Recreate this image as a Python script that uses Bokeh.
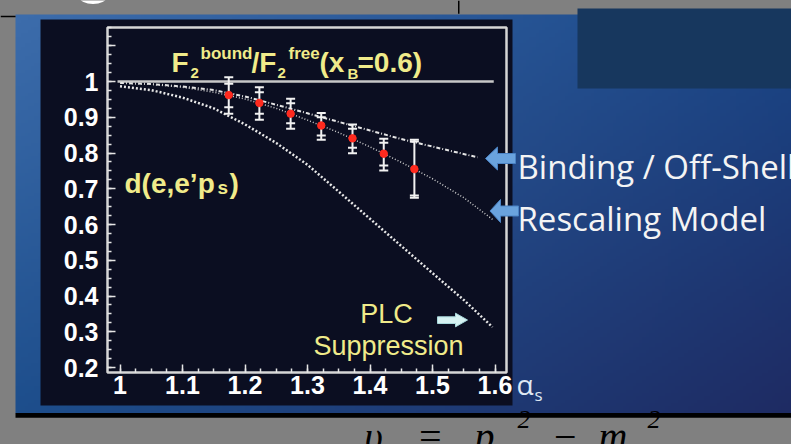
import numpy as np
from bokeh.plotting import figure
from bokeh.models import Range1d, LinearAxis, FixedTicker
from bokeh.core.properties import value
from bokeh.embed import file_html
from bokeh.resources import INLINE

# ---------------- data ----------------
alpha_s = [1.174, 1.223, 1.273, 1.322, 1.372, 1.422, 1.471]
ratio = [0.962, 0.940, 0.910, 0.877, 0.841, 0.798, 0.755]
tot_lo = [0.910, 0.893, 0.868, 0.837, 0.799, 0.751, 0.675]
tot_hi = [1.012, 0.984, 0.952, 0.912, 0.880, 0.840, 0.837]
stat_lo = [0.928, 0.910, 0.883, 0.849, 0.815, 0.765, 0.681]
stat_hi = [0.994, 0.970, 0.939, 0.900, 0.868, 0.829, 0.832]

binding_x = [1.0, 1.05, 1.1, 1.15, 1.2, 1.25, 1.3, 1.35, 1.4, 1.45, 1.5, 1.572]
binding_y = [0.996, 0.993, 0.986, 0.976, 0.958, 0.935, 0.911, 0.887, 0.863, 0.839, 0.818, 0.788]
rescale_x = [1.0, 1.05, 1.1, 1.15, 1.2, 1.25, 1.3, 1.35, 1.4, 1.45, 1.5, 1.55, 1.597]
rescale_y = [0.996, 0.992, 0.984, 0.970, 0.951, 0.925, 0.892, 0.857, 0.817, 0.774, 0.728, 0.675, 0.613]
plc_x = [1.0, 1.05, 1.1, 1.15, 1.2, 1.25, 1.3, 1.35, 1.4, 1.45, 1.5, 1.55, 1.596]
plc_y = [0.987, 0.976, 0.955, 0.925, 0.880, 0.828, 0.767, 0.692, 0.616, 0.540, 0.464, 0.389, 0.313]
unity_x = [0.996, 1.598]
unity_y = [1.0, 1.0]

x_ticks = [1.0, 1.1, 1.2, 1.3, 1.4, 1.5, 1.6]
x_tick_labels = ["1", "1.1", "1.2", "1.3", "1.4", "1.5", "1.6"]
y_ticks = [0.2, 0.3, 0.4, 0.5, 0.6, 0.7, 0.8, 0.9, 1.0, 1.1]
y_tick_labels = ["0.2", "0.3", "0.4", "0.5", "0.6", "0.7", "0.8", "0.9", "1", ""]

# ---------------- geometry helpers (reference pixels -> coords) ----------------
def X(px):
    return 1.0 + (px - 119.5) / 625.0

def Y(py):
    return 1.0 - (py - 81.0) / 357.5

def V(py):
    return 444.0 - py

W, H = 791, 444
p = figure(width=W, height=H, output_backend="svg", toolbar_location=None,
           x_range=Range1d(X(0), X(W)), y_range=Range1d(Y(H), Y(0)),
           x_axis_location=None, y_axis_location=None, min_border=0,
           background_fill_color="#808080", border_fill_color="#808080",
           outline_line_color=None)
p.extra_x_ranges = {"px": Range1d(0, W)}
p.extra_y_ranges = {"px": Range1d(V(H), V(0))}
p.xgrid.visible = False
p.ygrid.visible = False

PX = dict(x_range_name="px", y_range_name="px")

def box(l, r, t, b, color):
    p.quad(left=[l], right=[r], top=[V(t)], bottom=[V(b)], fill_color=color,
           line_color=None, **PX)

# ---------------- slide background ----------------
rows, cols = 120, 240
tx = (np.arange(cols) + 0.5) / cols
fy = 1.0 - (np.arange(rows) + 0.5) / rows
TX, FY = np.meshgrid(tx, fy)
TL = np.array([0x3d, 0x6d, 0xac]); TR = np.array([0x1a, 0x47, 0x88])
BL = np.array([0x1d, 0x4e, 0x8c]); BR = np.array([0x1f, 0x2b, 0x63])
col = (TL[None, None, :] * ((1 - TX) * (1 - FY))[..., None]
       + TR[None, None, :] * (TX * (1 - FY))[..., None]
       + BL[None, None, :] * ((1 - TX) * FY)[..., None]
       + BR[None, None, :] * (TX * FY)[..., None])
img = np.empty((rows, cols), dtype=np.uint32)
view = img.view(dtype=np.uint8).reshape((rows, cols, 4))
view[..., 0] = col[..., 0].astype(np.uint8)
view[..., 1] = col[..., 1].astype(np.uint8)
view[..., 2] = col[..., 2].astype(np.uint8)
view[..., 3] = 255
p.image_rgba(image=[img], x=15, y=V(412.7), dw=776, dh=398.7, **PX)

# formula under the slide
serif = value("Liberation Serif")
p.text(x=[364, 416, 474, 551, 598], y=[V(436)] * 5, text=["υ", "=", "p", "−", "m"],
       text_font=serif, text_font_style="italic", text_font_size="40px",
       text_color="black", text_baseline="alphabetic", **PX)
p.text(x=[517, 647], y=[V(419)] * 2, text=["2", "2"], text_font=serif,
       text_font_style="italic", text_font_size="26px", text_color="black",
       text_baseline="alphabetic", **PX)

box(15, 791, 412.6, 417.3, "#000000")   # black rule
box(0, 15, 15.3, 16.7, "#000000")
box(457.5, 459, 0, 13.3, "#000000")
p.ellipse(x=[92.5], y=[V(-3)], width=27, height=13, fill_color="#ffffff",
          line_color=None, **PX)
box(577, 791, 8, 88, "#17375e")          # dark box top right
box(40, 512, 19, 405, "#0b0e21")         # chart panel

# ---------------- chart ----------------
frame_l, frame_r, frame_b, frame_t = X(107), X(506), Y(372), Y(27)
p.quad(left=[frame_l], right=[frame_r], bottom=[frame_b], top=[frame_t],
       fill_color=None, line_color="#d6d6d6", line_width=2.5)

tick_col = "#e6e6e6"
yaxis = LinearAxis(fixed_location=frame_l, bounds=(frame_b, frame_t),
                   ticker=FixedTicker(ticks=y_ticks,
                                      minor_ticks=list(np.round(np.arange(0.2, 1.151, 0.025), 4))))
yaxis.major_label_overrides = dict(zip(y_ticks, y_tick_labels))
xaxis = LinearAxis(fixed_location=frame_b, bounds=(frame_l, frame_r),
                   ticker=FixedTicker(ticks=x_ticks,
                                      minor_ticks=list(np.round(np.arange(1.0, 1.601, 0.025), 4))))
xaxis.major_label_overrides = dict(zip(x_ticks, x_tick_labels))
for ax in (yaxis, xaxis):
    ax.axis_line_color = None
    ax.major_tick_in = 8
    ax.major_tick_out = 0
    ax.minor_tick_in = 4
    ax.minor_tick_out = 0
    ax.major_tick_line_color = tick_col
    ax.minor_tick_line_color = tick_col
    ax.major_tick_line_width = 1.5
    ax.minor_tick_line_width = 1.5
    ax.major_label_text_font = "Liberation Sans"
    ax.major_label_text_font_style = "bold"
    ax.major_label_text_font_size = "25px"
    ax.major_label_text_color = "#ffffff"
yaxis.major_label_standoff = 9
xaxis.major_label_standoff = 3
p.add_layout(yaxis, "left")
p.add_layout(xaxis, "below")

p.line(unity_x, unity_y, line_color="#c8c8c8", line_width=2.5)
p.line(binding_x, binding_y, line_color="#e4e4e4", line_width=2, line_dash="4 2 1 2")
p.line(rescale_x, rescale_y, line_color="#d0d0d0", line_width=1.5, line_dash="1 2")
p.line(plc_x, plc_y, line_color="#e8e8e8", line_width=2.5, line_dash="2 2")

p.segment(x0=alpha_s, y0=tot_lo, x1=alpha_s, y1=tot_hi, line_color="#f2f2f2", line_width=2)
for ys in (tot_lo, tot_hi, stat_lo, stat_hi):
    p.scatter(alpha_s, ys, marker="dash", size=9, line_color="#f2f2f2", line_width=2)
p.scatter(alpha_s, ratio, marker="circle", size=7.5, fill_color="#ff2a1e", line_color="#ff2a1e")

# ---------------- texts ----------------
sans = value("Liberation Sans")
yellow = "#f0eb8a"
p.text(x=[171, 251, 319, 357], y=[V(62)] * 4, text=["F", "/F", "(x", "=0.6)"],
       text_font=sans, text_font_style="bold", text_font_size="28px",
       text_color=yellow, text_baseline="alphabetic", **PX)
p.text(x=[190, 277, 347], y=[V(72.5)] * 3, text=["2", "2", "B"],
       text_font=sans, text_font_style="bold", text_font_size="15px",
       text_color=yellow, text_baseline="alphabetic", **PX)
p.text(x=[200, 288], y=[V(53)] * 2, text=["bound", "free"],
       text_font=sans, text_font_style="bold", text_font_size="17px",
       text_color=yellow, text_baseline="alphabetic", **PX)

p.text(x=[124, 229], y=[V(183)] * 2, text=["d(e,e’p", ")"], text_font=sans,
       text_font_style="bold", text_font_size="28px", text_color=yellow,
       text_baseline="alphabetic", **PX)
p.text(x=[217], y=[V(187)], text=["s"], text_font=sans, text_font_style="bold",
       text_font_size="19px", text_color=yellow, text_baseline="alphabetic", **PX)

p.text(x=[386, 388], y=[V(313), V(345)], text=["PLC", "Suppression"], text_font=sans,
       text_font_size="27px", text_color=yellow, text_align="center",
       text_baseline="alphabetic", **PX)

# arrows
p.patch(x=[467, 455, 455, 437, 437, 455, 455],
        y=[V(319.5), V(312.7), V(316.3), V(316.3), V(323), V(323), V(326.3)],
        fill_color="#d6f2f2", line_color="#a8d8dc", line_width=1, **PX)
for cy, tip, base, end in ((158, 485, 497, 515), (210.5, 489.5, 500, 518)):
    p.patch(x=[tip, base, base, end, end, base, base],
            y=[V(cy), V(cy - 11.5), V(cy - 5), V(cy - 5), V(cy + 5), V(cy + 5), V(cy + 11.5)],
            fill_color="#6aa3de", line_color="#4a82c4", line_width=1, **PX)

open_sans = value("Open Sans")
p.text(x=[517, 517], y=[V(166), V(218)], text=["Binding / Off-Shell", "Rescaling Model"],
       text_font=open_sans, text_font_size="33px", text_color="#f4f4f4",
       text_baseline="alphabetic", **PX)
p.text(x=[516], y=[V(383)], text=["α"], text_font=open_sans, text_font_size="28px",
       text_color="#dfe8f3", text_baseline="alphabetic", **PX)
p.text(x=[534], y=[V(394)], text=["s"], text_font=open_sans, text_font_size="17px",
       text_color="#dfe8f3", text_baseline="alphabetic", **PX)

TEMPLATE = "{% block preamble %}<style>body{background:#808080;}</style>{% endblock %}"
open("out.html", "w").write(file_html(p, INLINE, template=TEMPLATE))
